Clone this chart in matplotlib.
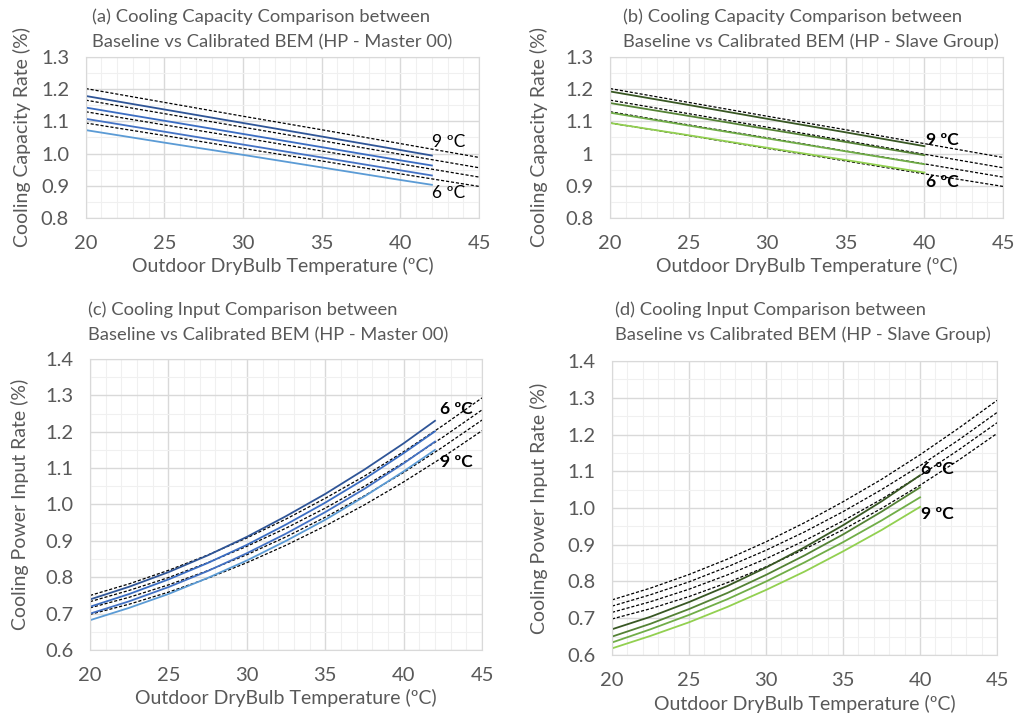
import numpy as np
import matplotlib.pyplot as plt
from matplotlib.ticker import MultipleLocator

plt.rcParams['font.family'] = ['Lato', 'DejaVu Sans']

# 温度轴
t_base = [20, 25, 30, 35, 40, 45]
t_master = [20, 25, 30, 35, 40, 42]
t_slave = [20, 25, 30, 35, 40]
t_base_f = [20, 22.5, 25, 27.5, 30, 32.5, 35, 37.5, 40, 42.5, 45]
t_master_f = [20, 22.5, 25, 27.5, 30, 32.5, 35, 37.5, 40, 42]
t_slave_f = [20, 22.5, 25, 27.5, 30, 32.5, 35, 37.5, 40]

# 基准模型 (虚线) - 制冷量
cap_base = {
    '6': [1.095, 1.056, 1.016, 0.977, 0.937, 0.898],
    '7': [1.130, 1.089, 1.049, 1.008, 0.968, 0.927],
    '8': [1.166, 1.124, 1.082, 1.040, 0.998, 0.956],
    '9': [1.202, 1.159, 1.116, 1.074, 1.031, 0.988],
}
# 校准模型 - Master 00 制冷量
cap_master = {
    '9': [1.179, 1.137, 1.095, 1.053, 1.011, 0.994],
    '8': [1.143, 1.102, 1.061, 1.020, 0.979, 0.963],
    '7': [1.108, 1.068, 1.028, 0.988, 0.948, 0.932],
    '6': [1.073, 1.034, 0.996, 0.957, 0.918, 0.903],
}
# 校准模型 - Slave Group 制冷量
cap_slave = {
    '9': [1.193, 1.151, 1.108, 1.066, 1.023],
    '8': [1.157, 1.117, 1.076, 1.036, 0.995],
    '7': [1.127, 1.087, 1.047, 1.007, 0.967],
    '6': [1.095, 1.057, 1.018, 0.980, 0.941],
}

# 基准模型 (虚线) - 输入功率
inp_base = {
    '6': [0.750, 0.782, 0.819, 0.861, 0.908, 0.960, 1.017, 1.078, 1.145, 1.217, 1.293],
    '7': [0.733, 0.764, 0.799, 0.840, 0.885, 0.935, 0.990, 1.050, 1.115, 1.185, 1.260],
    '8': [0.716, 0.745, 0.779, 0.818, 0.862, 0.911, 0.965, 1.024, 1.088, 1.158, 1.232],
    '9': [0.698, 0.726, 0.759, 0.797, 0.840, 0.888, 0.941, 0.999, 1.062, 1.130, 1.203],
}
# 校准模型 - Master 00 输入功率
inp_master = {
    '6': [0.739, 0.774, 0.814, 0.860, 0.911, 0.968, 1.029, 1.096, 1.168, 1.230],
    '7': [0.719, 0.754, 0.794, 0.839, 0.889, 0.945, 1.005, 1.070, 1.141, 1.201],
    '8': [0.700, 0.734, 0.773, 0.817, 0.866, 0.920, 0.979, 1.043, 1.113, 1.173],
    '9': [0.682, 0.716, 0.754, 0.798, 0.846, 0.900, 0.958, 1.022, 1.091, 1.150],
}
# 校准模型 - Slave Group 输入功率
inp_slave = {
    '6': [0.670, 0.704, 0.744, 0.788, 0.838, 0.893, 0.953, 1.018, 1.089],
    '7': [0.650, 0.685, 0.725, 0.769, 0.818, 0.871, 0.928, 0.990, 1.056],
    '8': [0.634, 0.670, 0.709, 0.752, 0.800, 0.852, 0.907, 0.966, 1.029],
    '9': [0.618, 0.652, 0.689, 0.731, 0.777, 0.827, 0.882, 0.940, 1.003],
}

blues = ['#2F5597', '#3B6DC2', '#4472C4', '#5B9BD5']
greens = ['#385723', '#548235', '#70AD47', '#92D050']

grey = '#595959'
dash = (0, (2.5, 1.5))


def style_axes(ax, ylim, yfmt, ylab, ylab_x, xlab_y):
    ax.set_xlim(20, 45)
    ax.set_ylim(*ylim)
    ax.xaxis.set_major_locator(MultipleLocator(5))
    ax.xaxis.set_minor_locator(MultipleLocator(1))
    ax.yaxis.set_major_locator(MultipleLocator(0.1))
    ax.yaxis.set_minor_locator(MultipleLocator(0.05))
    ax.yaxis.set_major_formatter(plt.FuncFormatter(yfmt))
    ax.grid(which='major', color='#D9D9D9', lw=1.0)
    ax.grid(which='minor', color='#F0F0F0', lw=0.8)
    ax.set_axisbelow(True)
    for s in ax.spines.values():
        s.set_color('#D9D9D9')
    ax.tick_params(which='both', length=0, labelsize=14.5, colors=grey)
    ax.tick_params(axis='x', pad=12)
    ax.tick_params(axis='y', pad=12)
    ax.set_xlabel('Outdoor DryBulb Temperature (ºC)', fontsize=14, color=grey)
    ax.xaxis.set_label_coords(0.5, xlab_y)
    ax.set_ylabel(ylab, fontsize=14, color=grey)
    ax.yaxis.set_label_coords(ylab_x, 0.5)


def fmt1(v, pos):
    return '%.1f' % v


def fmt_g(v, pos):
    return '%g' % round(v, 2)


fig = plt.figure(figsize=(10.14, 7.17), dpi=100)

ax_a = fig.add_axes([0.0845, 0.696, 0.388, 0.2245])
ax_b = fig.add_axes([0.6016, 0.696, 0.3876, 0.2245])
ax_c = fig.add_axes([0.0888, 0.0934, 0.3866, 0.406])
ax_d = fig.add_axes([0.6036, 0.0865, 0.3797, 0.410])

# (a)
for k in ['6', '7', '8', '9']:
    ax_a.plot(t_base, cap_base[k], color='black', ls=dash, lw=0.9)
for k, c in zip(['9', '8', '7', '6'], blues):
    ax_a.plot(t_master, cap_master[k], color=c, lw=1.3)
style_axes(ax_a, (0.8, 1.3), fmt1, 'Cooling Capacity Rate (%)', -0.138, -0.24)
ax_a.text(42.0, 1.036, '9 ºC', fontsize=12.5, va='center', ha='left')
ax_a.text(42.0, 0.878, '6 ºC', fontsize=12.5, va='center', ha='left')

# (b)
for k in ['6', '7', '8', '9']:
    ax_b.plot(t_base, cap_base[k], color='black', ls=dash, lw=0.9)
for k, c in zip(['9', '8', '7', '6'], greens):
    ax_b.plot(t_slave, cap_slave[k], color=c, lw=1.3)
style_axes(ax_b, (0.8, 1.3), fmt_g, 'Cooling Capacity Rate (%)', -0.158, -0.24)
ax_b.text(40.1, 1.042, '9 ºC', fontsize=12.5, fontweight='bold', va='center', ha='left')
ax_b.text(40.1, 0.912, '6 ºC', fontsize=12.5, fontweight='bold', va='center', ha='left')

# (c)
for k in ['6', '7', '8', '9']:
    ax_c.plot(t_base_f, inp_base[k], color='black', ls=dash, lw=0.9)
for k, c in zip(['6', '7', '8', '9'], blues):
    ax_c.plot(t_master_f, inp_master[k], color=c, lw=1.3)
style_axes(ax_c, (0.6, 1.4), fmt1, 'Cooling Power Input Rate (%)', -0.155, -0.133)
ax_c.text(42.3, 1.263, '6 ºC', fontsize=12.5, fontweight='bold', va='center', ha='left')
ax_c.text(42.3, 1.117, '9 ºC', fontsize=12.5, fontweight='bold', va='center', ha='left')

# (d)
for k in ['6', '7', '8', '9']:
    ax_d.plot(t_base_f, inp_base[k], color='black', ls=dash, lw=0.9)
for k, c in zip(['6', '7', '8', '9'], greens):
    ax_d.plot(t_slave_f, inp_slave[k], color=c, lw=1.3)
style_axes(ax_d, (0.6, 1.4), fmt1, 'Cooling Power Input Rate (%)', -0.167, -0.135)
ax_d.text(40.06, 1.106, '6 ºC', fontsize=12.5, fontweight='bold', va='center', ha='left')
ax_d.text(40.06, 0.984, '9 ºC', fontsize=12.5, fontweight='bold', va='center', ha='left')

# 标题
titles = [
    (92, 17, 42, '(a) Cooling Capacity Comparison between', 'Baseline vs Calibrated BEM (HP - Master 00)'),
    (623, 17, 42, '(b) Cooling Capacity Comparison between', 'Baseline vs Calibrated BEM (HP - Slave Group)'),
    (88, 310, 335, '(c) Cooling Input Comparison between', 'Baseline vs Calibrated BEM (HP - Master 00)'),
    (615, 310, 335, '(d) Cooling Input Comparison between', 'Baseline vs Calibrated BEM (HP - Slave Group)'),
]
for x, y1, y2, l1, l2 in titles:
    fig.text(x / 1014, 1 - y1 / 717, l1, fontsize=13.2, color=grey, va='center', ha='left')
    fig.text(x / 1014, 1 - y2 / 717, l2, fontsize=13.2, color=grey, va='center', ha='left')

fig.savefig('out.png', dpi=100)
